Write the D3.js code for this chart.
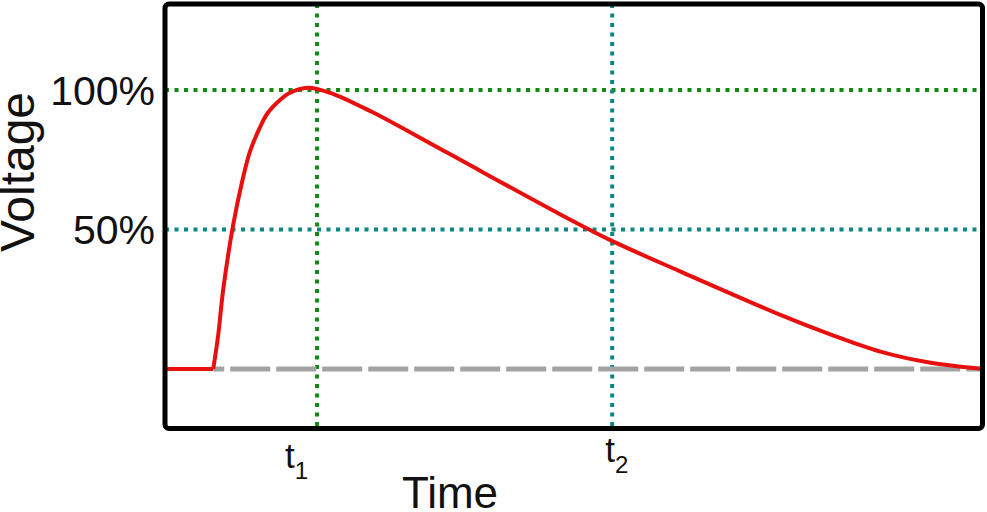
<!DOCTYPE html>
<html>
<head>
<meta charset="utf-8">
<script src="https://cdn.jsdelivr.net/npm/d3@7"></script>
<style>
  html, body { margin: 0; padding: 0; background: #fff; }
  svg { display: block; }
  text { font-family: "Liberation Sans", Arial, sans-serif; fill: #111; }
</style>
</head>
<body>
<svg id="chart" width="987" height="512"></svg>
<script>
// ---- data ----
const time = [0, 5.9, 6.5, 7.1, 8.3, 9.5, 10.4, 11.6, 12.5, 14.1, 15.3, 17.4, 20.2, 25.4, 33.6, 48.3, 54.6, 63.0, 75.2, 81.3, 87.4, 93.5, 100];
const voltage = [0, 0, 12, 28, 51, 68, 78, 86.5, 91.5, 96.5, 99, 100.8, 99, 92, 79, 55.5, 46, 35, 19.5, 12.5, 6.3, 2.3, 0];
const yTickValues = [100, 50];
const yTickLabels = ["100%", "50%"];
const xMarkValues = [18.6, 54.7];
const xMarkSubs = ["1", "2"];
const onsetTime = 5.9;

// ---- layout ----
const svg = d3.select("#chart");
const x = d3.scaleLinear().domain([0, 100]).range([165, 982.5]);
const y = d3.scaleLinear().domain([0, 100]).range([369, 90]);
const frameTop = 4, frameBottom = 428.5;
const green = "#128a12", teal = "#0b8585";
const gridColors = [green, teal];

// horizontal dotted grid lines
svg.selectAll("line.hgrid").data(yTickValues).join("line")
  .attr("class", "hgrid")
  .attr("x1", x(0)).attr("x2", x(100))
  .attr("y1", d => y(d)).attr("y2", d => y(d))
  .attr("stroke", (d, i) => gridColors[i])
  .attr("stroke-width", 4)
  .attr("stroke-dasharray", "4 5.5");

// vertical dotted lines
svg.selectAll("line.vgrid").data(xMarkValues).join("line")
  .attr("class", "vgrid")
  .attr("x1", d => x(d)).attr("x2", d => x(d))
  .attr("y1", frameTop).attr("y2", frameBottom)
  .attr("stroke", (d, i) => gridColors[i])
  .attr("stroke-width", 4)
  .attr("stroke-dasharray", "4 5.5");

// grey dashed baseline
svg.append("line")
  .attr("x1", x(onsetTime)).attr("x2", x(100))
  .attr("y1", y(0)).attr("y2", y(0))
  .attr("stroke", "#a3a3a3")
  .attr("stroke-width", 5)
  .attr("stroke-dasharray", "40 6")
  .attr("stroke-dashoffset", 29);

// red curve: flat lead-in, then smooth pulse
const pts = time.map((t, i) => [t, voltage[i]]);
const onsetIdx = time.indexOf(onsetTime);
const flatLine = d3.line().x(d => x(d[0])).y(d => y(d[1]));
const pulseLine = d3.line().x(d => x(d[0])).y(d => y(d[1])).curve(d3.curveCatmullRom.alpha(0.5));
const g = svg.append("g")
  .attr("fill", "none")
  .attr("stroke", "#e8100f")
  .attr("stroke-width", 4)
  .attr("stroke-linejoin", "round");
g.append("path").attr("d", flatLine(pts.slice(0, onsetIdx + 1)));
g.append("path").attr("d", pulseLine(pts.slice(onsetIdx)));

// frame
svg.append("rect")
  .attr("x", x(0)).attr("y", frameTop)
  .attr("width", x(100) - x(0)).attr("height", frameBottom - frameTop)
  .attr("rx", 4).attr("ry", 4)
  .attr("fill", "none")
  .attr("stroke", "#000")
  .attr("stroke-width", 5);

// y tick labels
svg.selectAll("text.ytick").data(yTickValues).join("text")
  .attr("class", "ytick")
  .attr("x", 155)
  .attr("y", d => y(d))
  .attr("dy", "0.36em")
  .attr("text-anchor", "end")
  .attr("font-size", 41)
  .text((d, i) => yTickLabels[i]);

// x mark labels t1, t2
const xOff = [-32, -7];
const xBase = [468, 462];
const xt = svg.selectAll("text.xtick").data(xMarkValues).join("text")
  .attr("class", "xtick")
  .attr("x", (d, i) => x(d) + xOff[i])
  .attr("y", (d, i) => xBase[i])
  .attr("font-size", 35);
xt.append("tspan").text("t");
xt.append("tspan").attr("dy", 11).attr("font-size", 24).text((d, i) => xMarkSubs[i]);

// axis titles
svg.append("text")
  .attr("x", 450).attr("y", 508)
  .attr("text-anchor", "middle")
  .attr("font-size", 44)
  .text("Time");

svg.append("text")
  .attr("transform", "translate(34,172) rotate(-90)")
  .attr("text-anchor", "middle")
  .attr("font-size", 48)
  .text("Voltage");
</script>
</body>
</html>
